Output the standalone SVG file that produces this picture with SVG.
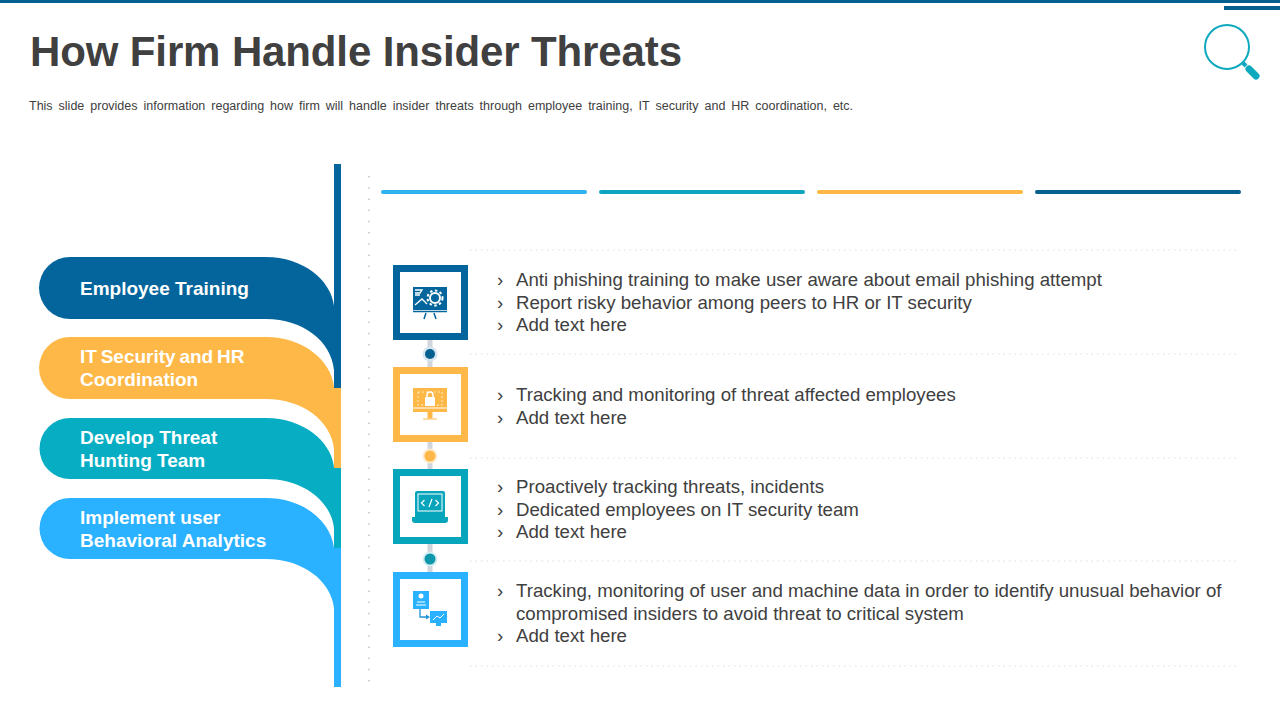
<svg xmlns="http://www.w3.org/2000/svg" width="1280" height="720" viewBox="0 0 1280 720">
<style>
text{font-family:"Liberation Sans",Arial,sans-serif}
.t{font-size:18.67px;fill:#404040}
.b{font-size:18.67px;fill:#404040}
.r{font-size:19px;font-weight:bold;fill:#fff}
.dot{stroke:#e9e9e9;stroke-width:1.5;stroke-dasharray:1.5 4;fill:none}
.vdot{stroke:#c4c4c4;stroke-width:1.5;stroke-dasharray:1.5 9.7;fill:none}
.link{stroke:#d0d6dc;stroke-width:5;fill:none}
</style>
<rect width="1280" height="720" fill="#fff"/>
<rect id="top-rule" x="0" y="0" width="1280" height="3" fill="#04618f"/>
<rect id="top-tab" x="1224" y="6" width="56" height="4" fill="#04618f"/>
<text x="30" y="66" font-size="42" font-weight="bold" fill="#404040" textLength="652">How Firm Handle Insider Threats</text>
<text x="29" y="110" font-size="12.5" fill="#404040" word-spacing="2.5">This slide provides information regarding how firm will handle insider threats through employee training, IT security and HR coordination, etc.</text>
<g id="search-icon">
<circle cx="1227" cy="47" r="22" fill="none" stroke="#0fa9bf" stroke-width="2"/>
<path d="M1243 63l3 3" stroke="#0fa9bf" stroke-width="4" fill="none"/>
<path d="M1249 69l7 7" stroke="#0fa9bf" stroke-width="7" stroke-linecap="round" fill="none"/>
</g>
<g id="rules">
<rect x="381" y="190" width="206" height="4" rx="2" fill="#2fb0ef"/>
<rect x="599" y="190" width="206" height="4" rx="2" fill="#0fa5c0"/>
<rect x="817" y="190" width="206" height="4" rx="2" fill="#feb848"/>
<rect x="1035" y="190" width="206" height="4" rx="2" fill="#04618f"/>
</g>
<g id="dotted-lines">
<path class="vdot" d="M369 176V682"/>
<path class="dot" d="M470 250H1236"/>
<path class="dot" d="M470 354H1236"/>
<path class="dot" d="M470 458H1236"/>
<path class="dot" d="M470 561H1236"/>
<path class="dot" d="M470 666H1236"/>
</g>
<g id="ribbon-4">
<path d="M70 498H266C303 498 331 521 334 548V608C331 581 303 559 266 559H70A30.500 30.500 0 0 1 70 498Z" fill="#2ab1ff"/>
<path d="M334 548H341V687H334Z" fill="#2ab1ff"/>
<text class="r"><tspan x="80" y="523.500">Implement user</tspan><tspan x="80" y="546.500">Behavioral Analytics</tspan></text>
</g>
<g id="ribbon-3">
<path d="M70 418H266C303 418 331 441 334 467V528C331 501 303 479 266 479H70A30.500 30.500 0 0 1 70 418Z" fill="#07aec3"/>
<path d="M334 468H341V548H334Z" fill="#07aec3"/>
<text class="r"><tspan x="80" y="443.500">Develop Threat</tspan><tspan x="80" y="466.500">Hunting Team</tspan></text>
</g>
<g id="ribbon-2">
<path d="M70 337H266C303 337 331 360 334 387V449C331 421 303 399 266 399H70A31 31 0 0 1 70 337Z" fill="#feb848"/>
<path d="M334 388H341V468H334Z" fill="#feb848"/>
<text class="r"><tspan x="80" y="362.500" word-spacing="-1.500">IT Security and HR</tspan><tspan x="80" y="385.500">Coordination</tspan></text>
</g>
<g id="ribbon-1">
<path d="M70 257H266C303 257 331 280 334 306V370C331 341 303 319 266 319H70A31 31 0 0 1 70 257Z" fill="#04659c"/>
<path d="M334 164H341V388H334Z" fill="#04659c"/>
<text class="r" x="80" y="294.500">Employee Training</text>
</g>
<g id="connectors">
<path class="link" d="M430 340V367"/>
<path class="link" d="M430 442V469"/>
<path class="link" d="M430 544V572"/>
<circle cx="430" cy="354" r="7.500" fill="#d6e6f0"/><circle cx="430" cy="354" r="5" fill="#04618f"/>
<circle cx="430" cy="456" r="7.500" fill="#fdeccd"/><circle cx="430" cy="456" r="5.500" fill="#feb848"/>
<circle cx="430" cy="559" r="7.500" fill="#d4eef2"/><circle cx="430" cy="559" r="5.500" fill="#0f97ab"/>
</g>
<g id="node-1">
<rect x="396.500" y="268.500" width="68" height="68" fill="#fff" stroke="#04659c" stroke-width="7"/>
<rect x="413" y="287" width="34" height="23" fill="#04659c"/>
<circle cx="435" cy="298" r="5" fill="none" stroke="#fff" stroke-width="2"/>
<circle cx="435" cy="298" r="7.500" fill="none" stroke="#fff" stroke-width="2" stroke-dasharray="2.500 2.500"/>
<path d="M415 290h7l-2 3h-5M415 295h5M415 305l7-6 5 5" stroke="#fff" stroke-width="1.300" fill="none"/>
<path d="M413 311.500h34M426 313l-2 6M434 313l2 6" stroke="#04659c" stroke-width="1.500" fill="none"/>
</g>
<g id="node-2">
<rect x="396.500" y="370.500" width="68" height="68" fill="#fff" stroke="#feb848" stroke-width="7"/>
<rect x="413" y="388" width="34" height="24" fill="#feb848"/>
<rect x="418" y="392" width="24" height="13" fill="none" stroke="#fff" stroke-width="0.700" stroke-dasharray="2 2"/>
<rect x="425" y="397" width="10" height="9" rx="1" fill="#fff"/>
<path d="M427 397v-2a3 3 0 0 1 6 0v2" stroke="#fff" stroke-width="1.500" fill="none"/>
<path d="M413 408h34" stroke="#fff"/>
<path d="M428 412h4v6h-4zM423 419h14" fill="#feb848" stroke="#feb848"/>
</g>
<g id="node-3">
<rect x="396.500" y="472.500" width="68" height="68" fill="#fff" stroke="#07a5bb" stroke-width="7"/>
<path d="M415 493a2 2 0 0 1 2-2h26a2 2 0 0 1 2 2v24h-30z" fill="#07a5bb"/>
<rect x="418" y="494" width="24" height="17" fill="none" stroke="#fff" stroke-width="1"/>
<path d="M412 517h36v3a3 3 0 0 1-3 3h-30a3 3 0 0 1-3-3z" fill="#07a5bb"/>
<path d="M424.500 500l-3 3 3 3M435.500 500l3 3-3 3M432 499l-3 8" stroke="#fff" stroke-width="1.200" fill="none"/>
</g>
<g id="node-4">
<rect x="396.500" y="575.500" width="68" height="68" fill="#fff" stroke="#2ab1ff" stroke-width="7"/>
<rect x="413" y="591" width="16" height="18" fill="#2ab1ff"/>
<circle cx="421" cy="596" r="2.500" fill="#fff"/>
<path d="M417 602h8M416 605h10" stroke="#fff"/>
<path d="M420 609v8h7" stroke="#2094d8" stroke-width="1.300" fill="none"/>
<path d="M430 617l-4-2.500v5z" fill="#2094d8"/>
<rect x="430" y="611" width="17" height="12" fill="#2ab1ff"/>
<path d="M433 620l4-4 3 2 4-4" stroke="#fff" fill="none"/>
<path d="M436 623h5v3h-5z" fill="#2ab1ff"/>
</g>
<g id="text-1">
<text class="b" x="497" y="285.500">›</text><text class="t" x="516" y="285.500">Anti phishing training to make user aware about email phishing attempt</text>
<text class="b" x="497" y="308.500">›</text><text class="t" x="516" y="308.500">Report risky behavior among peers to HR or IT security</text>
<text class="b" x="497" y="330.500">›</text><text class="t" x="516" y="330.500">Add text here</text>
</g>
<g id="text-2">
<text class="b" x="497" y="400.500">›</text><text class="t" x="516" y="400.500">Tracking and monitoring of threat affected employees</text>
<text class="b" x="497" y="423.500">›</text><text class="t" x="516" y="423.500">Add text here</text>
</g>
<g id="text-3">
<text class="b" x="497" y="492.500">›</text><text class="t" x="516" y="492.500">Proactively tracking threats, incidents</text>
<text class="b" x="497" y="515.500">›</text><text class="t" x="516" y="515.500">Dedicated employees on IT security team</text>
<text class="b" x="497" y="537.500">›</text><text class="t" x="516" y="537.500">Add text here</text>
</g>
<g id="text-4">
<text class="b" x="497" y="596.500">›</text><text class="t" x="516" y="596.500">Tracking, monitoring of user and machine data in order to identify unusual behavior of</text>
<text class="t" x="516" y="619.500">compromised insiders to avoid threat to critical system</text>
<text class="b" x="497" y="641.500">›</text><text class="t" x="516" y="641.500">Add text here</text>
</g>
</svg>
